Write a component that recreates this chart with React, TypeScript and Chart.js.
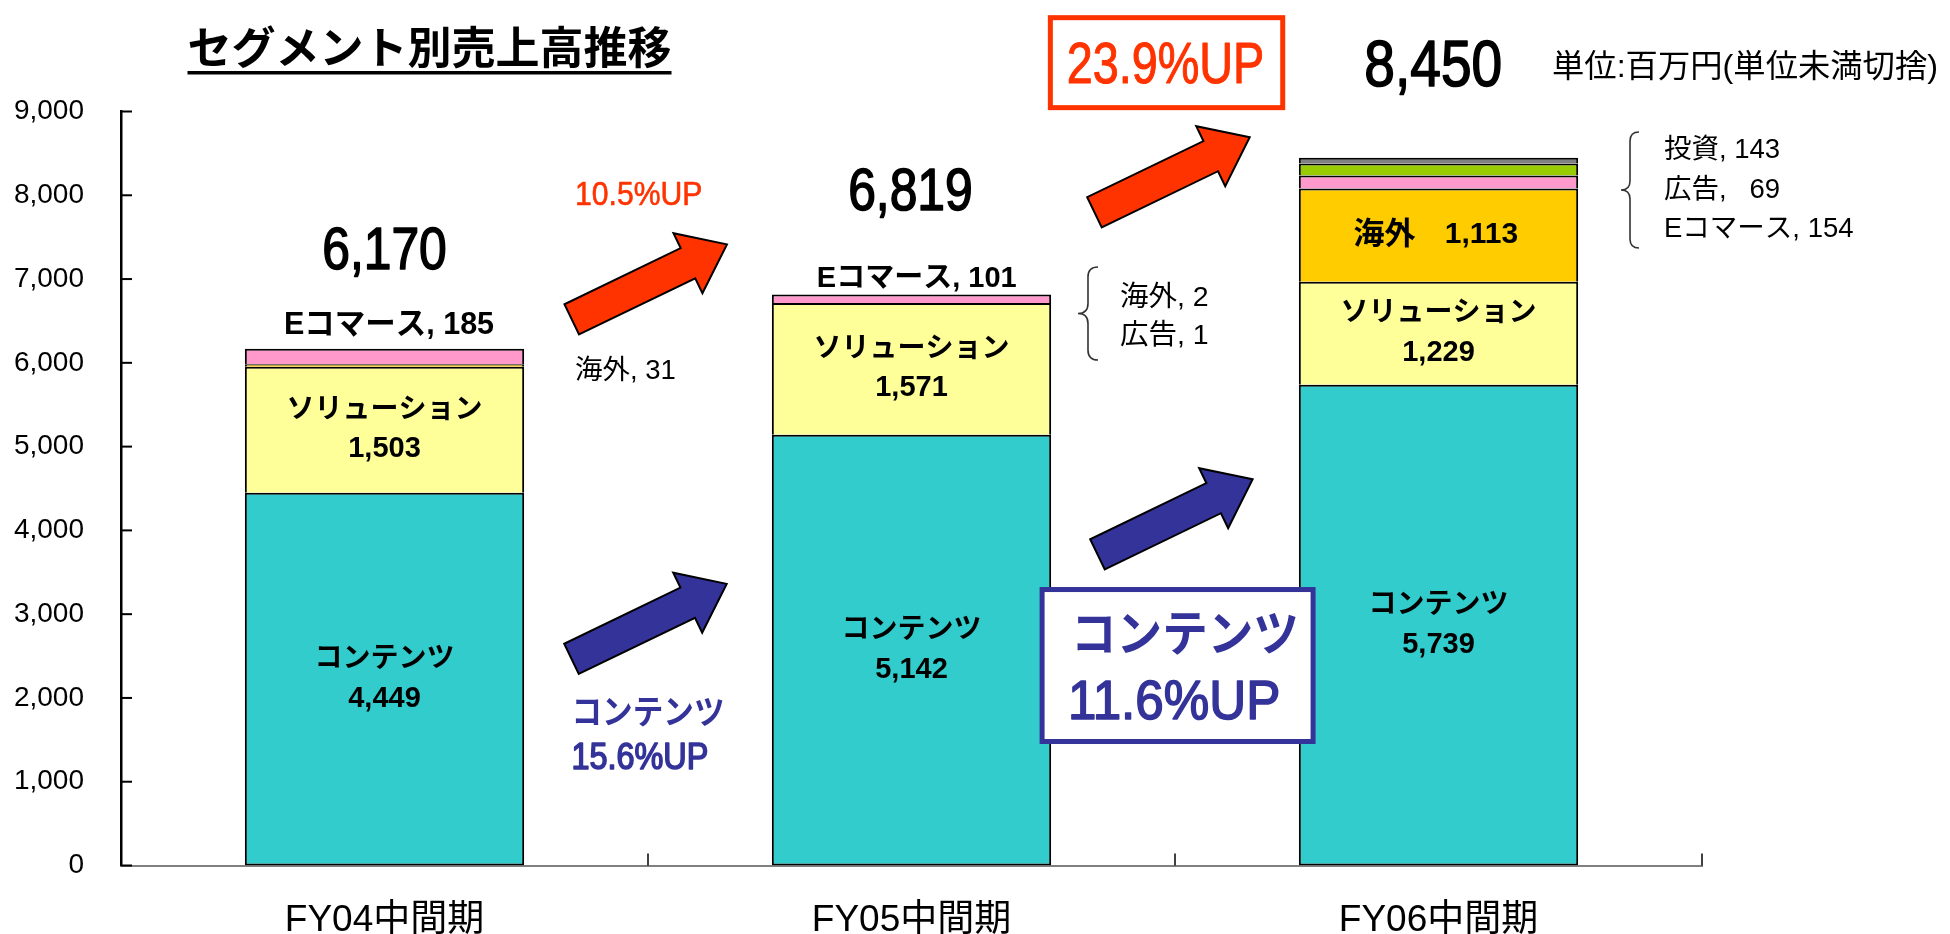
import React, { useEffect, useRef } from 'react';
import { Chart, registerables } from 'chart.js';

Chart.register(...registerables);

// ---- data ----
const categories = ['FY04中間期', 'FY05中間期', 'FY06中間期'];
const contents = [4449, 5142, 5739];
const solution = [1503, 1571, 1229];
const overseas = [31, 2, 1113];
const ecommerce = [185, 101, 154];
const investment = [0, 0, 143];
const advertising = [0, 1, 69];
const totals = [6170, 6819, 8450];
const seriesNames = ['コンテンツ', 'ソリューション', '海外', 'Eコマース', '投資', '広告'];
const yMax = 9000;
const yStep = 1000;
const growthTotal = ['10.5%UP', '23.9%UP'];
const growthContents = ['15.6%UP', '11.6%UP'];
const titleText = 'セグメント別売上高推移';
const unitText = '単位:百万円(単位未満切捨)';

const FONT = '"Liberation Sans", "Noto Sans CJK JP", sans-serif';
const fmt = (n: number) => n.toLocaleString('en-US');

function drawText(
  ctx: CanvasRenderingContext2D,
  s: string,
  x: number,
  y: number,
  size: number,
  bold = false,
  color = '#000',
  align: CanvasTextAlign = 'center',
  sx = 1,
  heavy = 0
) {
  ctx.save();
  ctx.font = `${bold ? 'bold ' : ''}${size}px ${FONT}`;
  ctx.fillStyle = color;
  ctx.textBaseline = 'middle';
  ctx.textAlign = align;
  ctx.translate(x, y);
  ctx.scale(sx, 1);
  ctx.fillText(s, 0, 0);
  if (heavy > 0) {
    ctx.strokeStyle = color;
    ctx.lineWidth = heavy;
    ctx.lineJoin = 'round';
    ctx.strokeText(s, 0, 0);
  }
  ctx.restore();
}

function drawArrow(ctx: CanvasRenderingContext2D, tx: number, ty: number, hx: number, hy: number, fill: string) {
  const dx = hx - tx, dy = hy - ty;
  const L = Math.hypot(dx, dy);
  const ux = dx / L, uy = dy / L;
  const nx = -uy, ny = ux;
  const sw = 16.75, hw = 33.3, hl = 43.3;
  const bx = hx - ux * hl, by = hy - uy * hl;
  const pts = [
    [tx + nx * sw, ty + ny * sw],
    [bx + nx * sw, by + ny * sw],
    [bx + nx * hw, by + ny * hw],
    [hx, hy],
    [bx - nx * hw, by - ny * hw],
    [bx - nx * sw, by - ny * sw],
    [tx - nx * sw, ty - ny * sw],
  ];
  ctx.save();
  ctx.beginPath();
  pts.forEach((p, i) => (i ? ctx.lineTo(p[0], p[1]) : ctx.moveTo(p[0], p[1])));
  ctx.closePath();
  ctx.fillStyle = fill;
  ctx.fill();
  ctx.lineWidth = 2;
  ctx.strokeStyle = '#000';
  ctx.lineJoin = 'miter';
  ctx.stroke();
  ctx.restore();
}

function drawBrace(ctx: CanvasRenderingContext2D, xL: number, xR: number, yT: number, yB: number) {
  const xm = (xL + xR) / 2, ym = (yT + yB) / 2;
  const r = (xR - xL) / 2;
  ctx.save();
  ctx.beginPath();
  ctx.moveTo(xR, yT);
  ctx.quadraticCurveTo(xm, yT, xm, yT + r);
  ctx.lineTo(xm, ym - r);
  ctx.quadraticCurveTo(xm, ym, xL, ym);
  ctx.quadraticCurveTo(xm, ym, xm, ym + r);
  ctx.lineTo(xm, yB - r);
  ctx.quadraticCurveTo(xm, yB, xR, yB);
  ctx.strokeStyle = '#333';
  ctx.lineWidth = 1.6;
  ctx.stroke();
  ctx.restore();
}

function drawBox(ctx: CanvasRenderingContext2D, x1: number, y1: number, x2: number, y2: number, color: string) {
  ctx.save();
  ctx.fillStyle = '#fff';
  ctx.fillRect(x1, y1, x2 - x1, y2 - y1);
  ctx.strokeStyle = color;
  ctx.lineWidth = 5;
  ctx.strokeRect(x1, y1, x2 - x1, y2 - y1);
  ctx.restore();
}

const overlay = {
  id: 'overlay',
  afterDraw(chart: any) {
    const ctx: CanvasRenderingContext2D = chart.ctx;
    const xs = chart.scales.x, ys = chart.scales.y, ca = chart.chartArea;
    const X = (v: number) => xs.getPixelForValue(v);
    const Y = (v: number) => ys.getPixelForValue(v);
    const RED = '#FF3300', BLUE = '#333399';

    ctx.save();
    // inward tick marks
    ctx.strokeStyle = '#000';
    ctx.lineWidth = 2;
    ys.ticks.forEach((t: any) => {
      const y = Y(t.value);
      ctx.beginPath();
      ctx.moveTo(ca.left, y);
      ctx.lineTo(ca.left + 11, y);
      ctx.stroke();
    });
    ctx.lineWidth = 1.5;
    for (let k = 0; k < categories.length; k++) {
      const x = X(k + 0.5);
      ctx.beginPath();
      ctx.moveTo(x, ca.bottom);
      ctx.lineTo(x, ca.bottom - 12);
      ctx.stroke();
    }
    ctx.restore();

    // category labels
    categories.forEach((c, i) => drawText(ctx, c, X(i), ca.bottom + 55, 37, false, '#000', 'center', 1));

    // title
    ctx.save();
    ctx.font = `bold 44px ${FONT}`;
    const tw = ctx.measureText(titleText).width;
    ctx.restore();
    drawText(ctx, titleText, 429.5, 52, 44, true, '#000', 'center', 1);
    ctx.save();
    ctx.fillStyle = '#000';
    ctx.fillRect(429.5 - tw / 2, 71, tw, 3.5);
    ctx.restore();

    // unit note
    drawText(ctx, unitText, 1552, 68, 32, false, '#000', 'left', 1.01);

    // segment labels from bar elements
    const m0 = chart.getDatasetMeta(0), m1 = chart.getDatasetMeta(1), m2 = chart.getDatasetMeta(2);
    for (let i = 0; i < categories.length; i++) {
      const e0 = m0.data[i];
      const c0 = (e0.y + e0.base) / 2;
      drawText(ctx, seriesNames[0], e0.x, c0 - 19.5, 28, true);
      drawText(ctx, fmt(contents[i]), e0.x, c0 + 19.5, 29, true);
      const e1 = m1.data[i];
      const c1 = (e1.y + e1.base) / 2;
      drawText(ctx, seriesNames[1], e1.x, c1 - 19.5, 28, true);
      drawText(ctx, fmt(solution[i]), e1.x, c1 + 19.5, 29, true);
    }
    const e2 = m2.data[2];
    const c2 = (e2.y + e2.base) / 2;
    drawText(ctx, seriesNames[2], e2.x - 54, c2, 31, true);
    drawText(ctx, fmt(overseas[2]), e2.x + 43, c2, 30, true);

    // Eコマース labels above FY04 / FY05 bars
    drawText(ctx, `${seriesNames[3]}, ${ecommerce[0]}`, X(0.0085), Y(6440), 30.5, true);
    drawText(ctx, `${seriesNames[3]}, ${ecommerce[1]}`, X(1.01), Y(7000), 29, true);

    // totals
    drawText(ctx, fmt(totals[0]), X(0), Y(7323), 60, false, '#000', 'center', 0.83, 1.6);
    drawText(ctx, fmt(totals[1]), X(0.998), Y(8027), 60, false, '#000', 'center', 0.83, 1.6);
    drawText(ctx, fmt(totals[2]), X(1.99), Y(9519), 64, false, '#000', 'center', 0.86, 1.6);

    // small notes
    drawText(ctx, `${seriesNames[2]}, ${overseas[0]}`, X(0.3615), Y(5903), 27.5, false, '#000', 'left');
    drawBrace(ctx, X(1.3159), X(1.3539), Y(7144), Y(6034));
    drawText(ctx, `${seriesNames[2]}, ${overseas[1]}`, X(1.3956), Y(6770), 28.5, false, '#000', 'left');
    drawText(ctx, `${seriesNames[5]}, ${advertising[1]}`, X(1.3956), Y(6318), 28.5, false, '#000', 'left');
    drawBrace(ctx, X(2.3463), X(2.3805), Y(8755), Y(7370));
    drawText(ctx, `${seriesNames[4]}, ${investment[2]}`, X(2.4279), Y(8530), 27.5, false, '#000', 'left');
    drawText(ctx, `${seriesNames[5]},   ${advertising[2]}`, X(2.4279), Y(8053), 27.5, false, '#000', 'left');
    drawText(ctx, `${seriesNames[3]}, ${ecommerce[2]}`, X(2.4279), Y(7588), 27.5, false, '#000', 'left');

    // arrows
    drawArrow(ctx, X(0.3553), Y(6519), X(0.6498), Y(7414), RED);
    drawArrow(ctx, X(1.3472), Y(7797), X(1.6418), Y(8692), RED);
    drawArrow(ctx, X(0.3548), Y(2467), X(0.6493), Y(3362), BLUE);
    drawArrow(ctx, X(1.3529), Y(3714), X(1.6473), Y(4610), BLUE);

    // growth texts
    drawText(ctx, growthTotal[0], X(0.3615), Y(7995), 33.5, false, RED, 'left', 0.9, 0.6);
    drawBox(ctx, X(1.2635), Y(10120), X(1.7044), Y(9046), RED);
    drawText(ctx, growthTotal[1], X(1.482), Y(9525), 57, false, RED, 'center', 0.82, 1);

    drawText(ctx, seriesNames[0], X(0.3548), Y(1800), 34, true, BLUE, 'left', 0.9);
    drawText(ctx, growthContents[0], X(0.3548), Y(1275), 36, false, BLUE, 'left', 0.9, 1.6);

    drawBox(ctx, X(1.2478), Y(3294), X(1.762), Y(1480), BLUE);
    drawText(ctx, seriesNames[0], X(1.3027), Y(2716), 49, true, BLUE, 'left', 0.93);
    drawText(ctx, growthContents[1], X(1.297), Y(1930), 55, false, BLUE, 'left', 0.93, 1.6);
  },
};

export default function App() {
  const ref = useRef<HTMLCanvasElement>(null);
  useEffect(() => {
    if (!ref.current) return;
    const colors = ['#33CCCC', '#FFFF99', '#FFCC00', '#FF99CC', '#99CC00', '#808080'];
    const values = [contents, solution, overseas, ecommerce, investment, advertising];
    const chart = new Chart(ref.current, {
      type: 'bar',
      data: {
        labels: categories,
        datasets: values.map((v, i) => ({
          label: seriesNames[i],
          data: v,
          backgroundColor: colors[i],
          borderColor: '#000',
          borderWidth: 2,
          borderSkipped: i === 0 ? false : 'start',
          barPercentage: 0.53,
          categoryPercentage: 1,
        })),
      },
      options: {
        responsive: false,
        animation: false,
        events: [],
        layout: { padding: { top: 111.5, right: 248, bottom: 0, left: 0 } },
        plugins: { legend: { display: false }, tooltip: { enabled: false }, title: { display: false } },
        scales: {
          x: {
            stacked: true,
            offset: true,
            grid: { display: false, drawTicks: false },
            border: { display: true, color: '#808080', width: 2 },
            ticks: { display: false },
            afterFit: (s: any) => { s.height = 68.5; },
          },
          y: {
            stacked: true,
            min: 0,
            max: yMax,
            grid: { display: false, drawTicks: false },
            border: { display: true, color: '#000', width: 2.5 },
            ticks: {
              stepSize: yStep,
              padding: 37,
              color: '#000',
              font: { family: '"Liberation Sans", Arial, sans-serif', size: 28 },
              callback: (v: any) => fmt(Number(v)),
            },
            afterFit: (s: any) => { s.width = 121; },
          },
        },
      },
      plugins: [overlay],
    } as any);
    return () => chart.destroy();
  }, []);
  return (
    <div style={{ position: 'fixed', left: 0, top: 0, width: 1950, height: 934, background: '#fff' }}>
      <canvas ref={ref} width={1950} height={934} style={{ display: 'block' }} />
    </div>
  );
}
